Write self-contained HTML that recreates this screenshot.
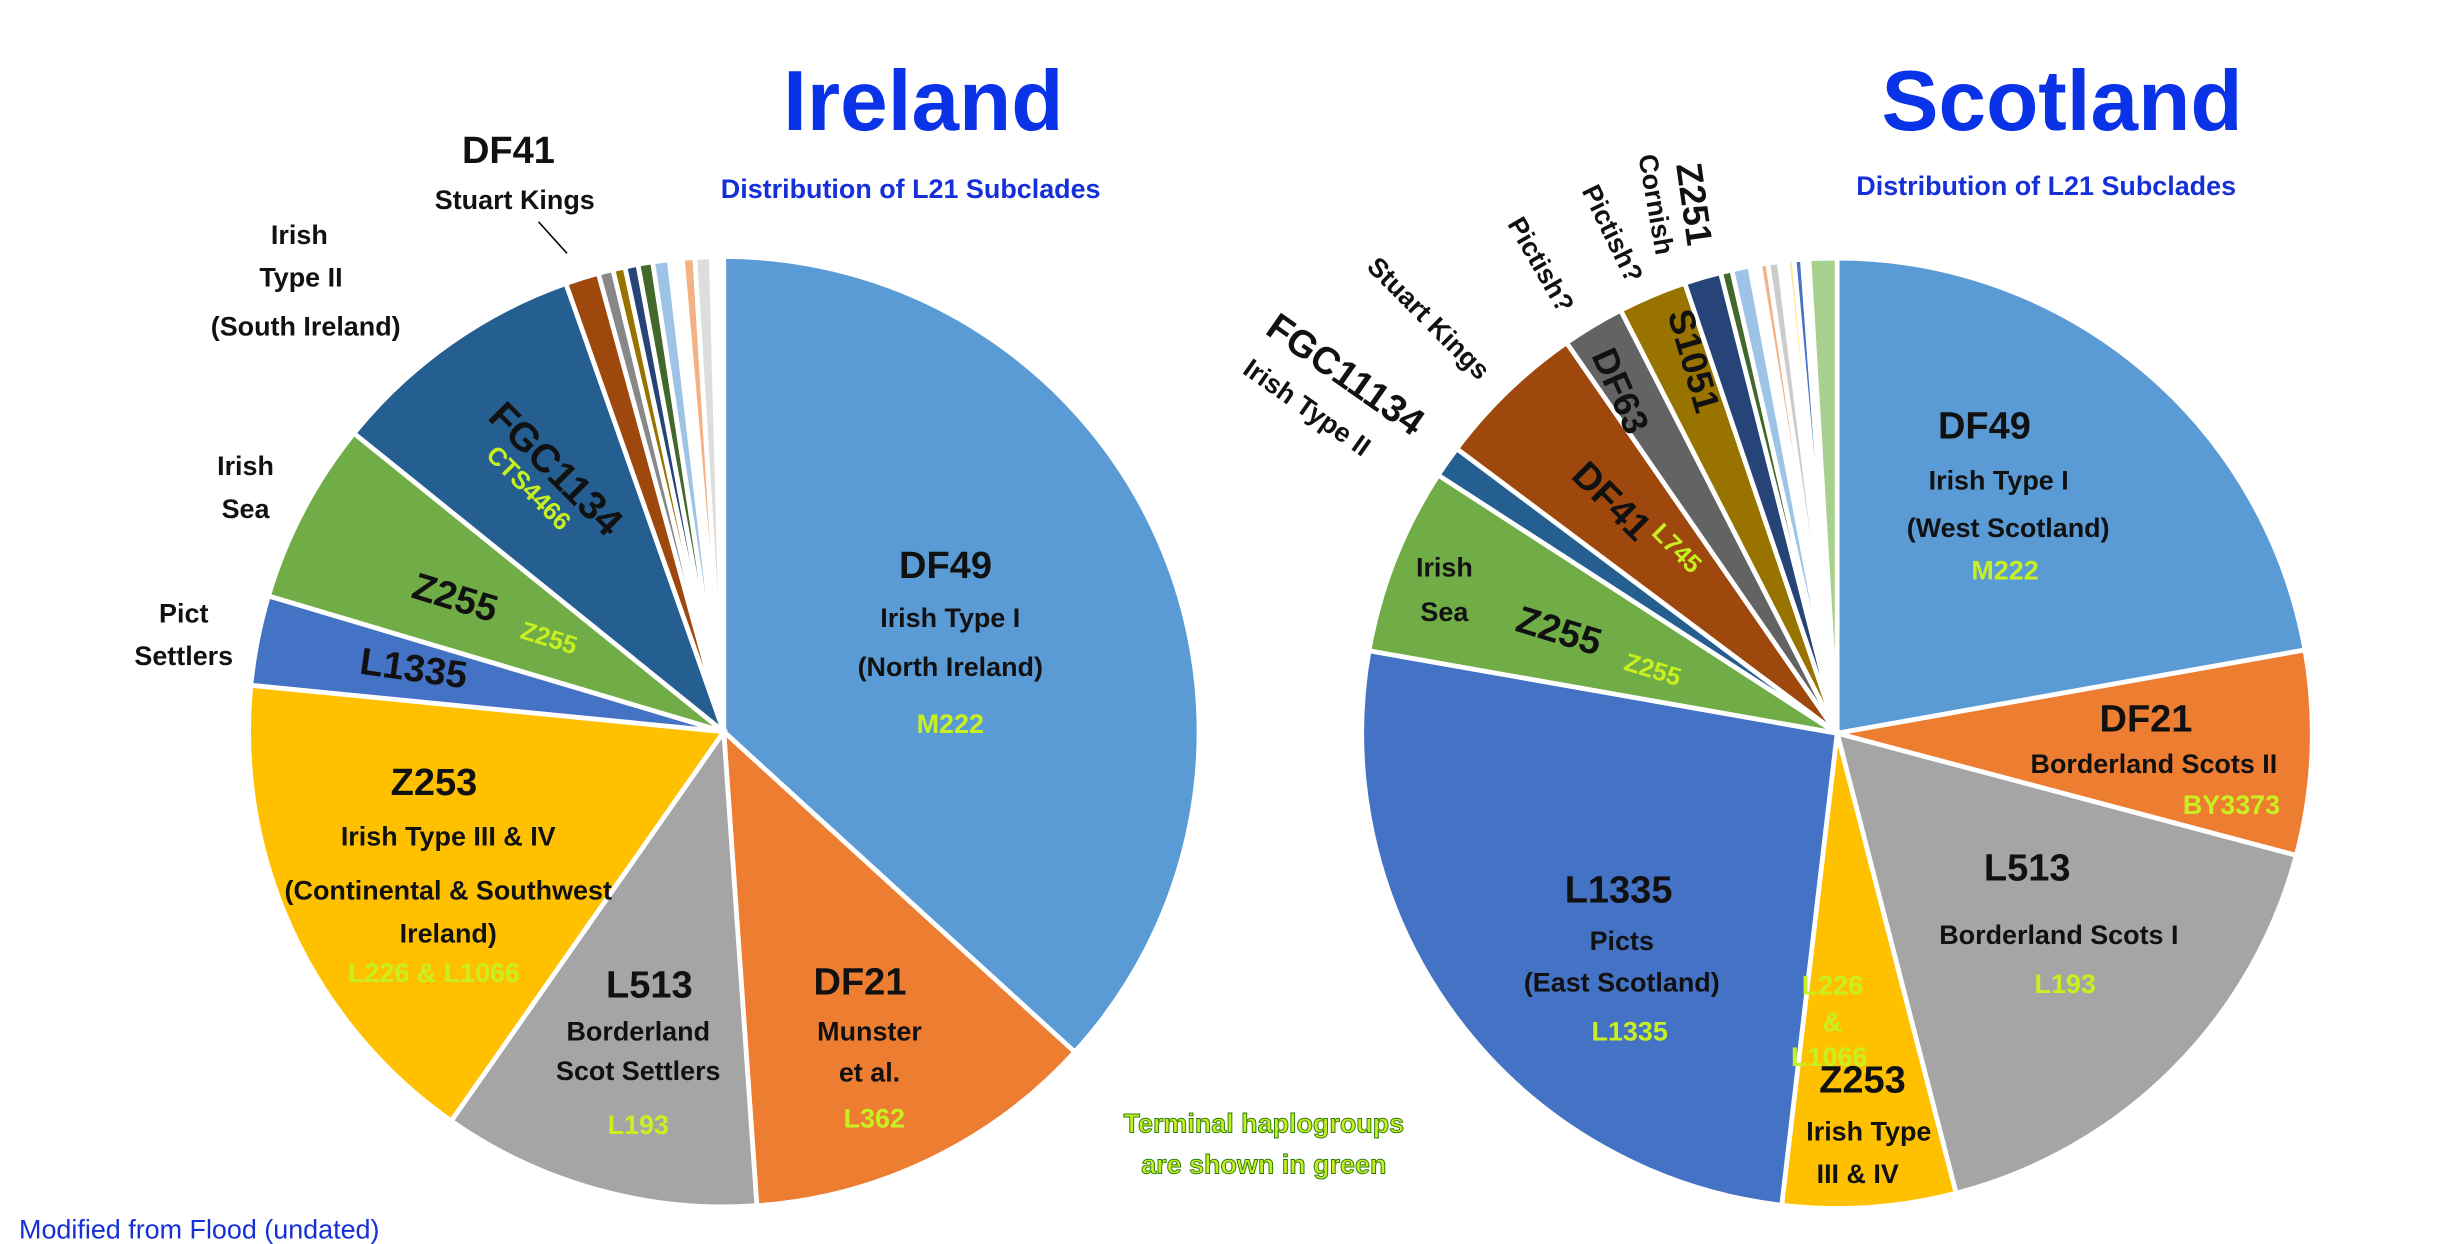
<!DOCTYPE html>
<html><head><meta charset="utf-8"><style>
html,body{margin:0;padding:0;background:#fff;}
svg{display:block;}
text{font-family:"Liberation Sans",sans-serif;font-weight:bold;}
.k{fill:#111;}
.g{fill:#c8f020;}
.n{font-weight:normal;}
</style></head><body>
<svg width="2458" height="1244" viewBox="0 0 1552 785.5" xmlns="http://www.w3.org/2000/svg">
<rect width="1552" height="785.5" fill="#fff"/>
<g stroke="#fff" stroke-width="3">
<path d="M457 462L457 162A300 300 0 0 1 678.6 664.3Z" fill="#5b9bd5"/>
<path d="M457 462L678.6 664.3A300 300 0 0 1 477.9 761.3Z" fill="#ed7d31"/>
<path d="M457 462L477.9 761.3A300 300 0 0 1 284.9 707.8Z" fill="#a5a5a5"/>
<path d="M457 462L284.9 707.8A300 300 0 0 1 158.4 432.7Z" fill="#ffc000"/>
<path d="M457 462L158.4 432.7A300 300 0 0 1 169.5 376.3Z" fill="#4472c4"/>
<path d="M457 462L169.5 376.3A300 300 0 0 1 223.5 273.6Z" fill="#70ad47"/>
<path d="M457 462L223.5 273.6A300 300 0 0 1 357.3 179Z" fill="#255e91"/>
<path d="M457 462L357.3 179A300 300 0 0 1 377.8 172.6Z" fill="#9e480e"/>
<path d="M457 462L377.8 172.6A300 300 0 0 1 387 170.3Z" fill="#888"/>
<path d="M457 462L387 170.3A300 300 0 0 1 394.6 168.6Z" fill="#997300"/>
<path d="M457 462L394.6 168.6A300 300 0 0 1 402.8 166.9Z" fill="#264478"/>
<path d="M457 462L402.8 166.9A300 300 0 0 1 412.1 165.4Z" fill="#43682b"/>
<path d="M457 462L412.1 165.4A300 300 0 0 1 422.5 164Z" fill="#9dc3e6"/>
<path d="M457 462L430.8 163.1A300 300 0 0 1 438.7 162.6Z" fill="#f4b183"/>
<path d="M457 462L438.7 162.6A300 300 0 0 1 449.1 162.1Z" fill="#ddd"/>
</g>
<g stroke="#fff" stroke-width="3">
<path d="M1160 463L1160 163A300 300 0 0 1 1455.4 410.4Z" fill="#5b9bd5"/>
<path d="M1160 463L1455.4 410.4A300 300 0 0 1 1449.9 540.1Z" fill="#ed7d31"/>
<path d="M1160 463L1449.9 540.1A300 300 0 0 1 1235.1 753.4Z" fill="#a5a5a5"/>
<path d="M1160 463L1235.1 753.4A300 300 0 0 1 1125 761Z" fill="#ffc000"/>
<path d="M1160 463L1125 761A300 300 0 0 1 864.4 410.9Z" fill="#4472c4"/>
<path d="M1160 463L864.4 410.9A300 300 0 0 1 908.1 300Z" fill="#70ad47"/>
<path d="M1160 463L908.1 300A300 300 0 0 1 919.8 283.3Z" fill="#255e91"/>
<path d="M1160 463L919.8 283.3A300 300 0 0 1 989.2 216.4Z" fill="#9e480e"/>
<path d="M1160 463L989.2 216.4A300 300 0 0 1 1023.3 195.9Z" fill="#636363"/>
<path d="M1160 463L1023.3 195.9A300 300 0 0 1 1063.8 178.8Z" fill="#997300"/>
<path d="M1160 463L1063.8 178.8A300 300 0 0 1 1086.4 172.2Z" fill="#264478"/>
<path d="M1160 463L1086.4 172.2A300 300 0 0 1 1093.5 170.5Z" fill="#43682b"/>
<path d="M1160 463L1093.5 170.5A300 300 0 0 1 1104.8 168.1Z" fill="#9dc3e6"/>
<path d="M1160 463L1111 167A300 300 0 0 1 1116.2 166.2Z" fill="#f4b183"/>
<path d="M1160 463L1116.2 166.2A300 300 0 0 1 1123.4 165.3Z" fill="#ccc"/>
<path d="M1160 463L1128.6 164.7A300 300 0 0 1 1132.8 164.2Z" fill="#ffe699"/>
<path d="M1160 463L1132.8 164.2A300 300 0 0 1 1138 163.8Z" fill="#4472c4"/>
<path d="M1160 463L1142.2 163.5A300 300 0 0 1 1160 163Z" fill="#a9d18e"/>
</g>
<text x="583" y="82" font-size="54" fill="#0a32e6" text-anchor="middle">Ireland</text>
<text x="575" y="125" font-size="17" fill="#1530d8" text-anchor="middle">Distribution of L21 Subclades</text>
<text x="1302" y="82" font-size="54" fill="#0a32e6" text-anchor="middle">Scotland</text>
<text x="1292" y="123" font-size="17" fill="#1530d8" text-anchor="middle">Distribution of L21 Subclades</text>
<text x="12" y="782" font-size="17" fill="#1530d8" class="n">Modified from Flood (undated)</text>
<text x="798" y="715" font-size="17" class="g" text-anchor="middle" stroke="#2a7a10" stroke-width="0.6">Terminal haplogroups</text>
<text x="798" y="741" font-size="17" class="g" text-anchor="middle" stroke="#2a7a10" stroke-width="0.6">are shown in green</text>
<text x="321" y="103" font-size="24" class="k" text-anchor="middle">DF41</text>
<text x="325" y="132" font-size="17" class="k" text-anchor="middle">Stuart Kings</text>
<line x1="340" y1="140" x2="358" y2="160" stroke="#000" stroke-width="1"/>
<text x="189" y="154" font-size="17" class="k" text-anchor="middle">Irish</text>
<text x="190" y="181" font-size="17" class="k" text-anchor="middle">Type II</text>
<text x="193" y="212" font-size="17" class="k" text-anchor="middle">(South Ireland)</text>
<text x="155" y="300" font-size="17" class="k" text-anchor="middle">Irish</text>
<text x="155" y="327" font-size="17" class="k" text-anchor="middle">Sea</text>
<text x="116" y="393" font-size="17" class="k" text-anchor="middle">Pict</text>
<text x="116" y="420" font-size="17" class="k" text-anchor="middle">Settlers</text>
<text transform="translate(345,302) rotate(45)" font-size="25" class="k" text-anchor="middle">FGC1134</text>
<text transform="translate(330,312) rotate(45)" font-size="16" class="g" text-anchor="middle">CTS4466</text>
<text transform="translate(285,385) rotate(17)" font-size="24" class="k" text-anchor="middle">Z255</text>
<text transform="translate(345,408) rotate(17)" font-size="16" class="g" text-anchor="middle">Z255</text>
<text transform="translate(260,430) rotate(8)" font-size="24" class="k" text-anchor="middle">L1335</text>
<text x="597" y="365" font-size="24" class="k" text-anchor="middle">DF49</text>
<text x="600" y="396" font-size="17" class="k" text-anchor="middle">Irish Type I</text>
<text x="600" y="427" font-size="17" class="k" text-anchor="middle">(North Ireland)</text>
<text x="600" y="463" font-size="17" class="g" text-anchor="middle">M222</text>
<text x="274" y="502" font-size="24" class="k" text-anchor="middle">Z253</text>
<text x="283" y="534" font-size="17" class="k" text-anchor="middle">Irish Type III &amp; IV</text>
<text x="283" y="568" font-size="17" class="k" text-anchor="middle">(Continental &amp; Southwest</text>
<text x="283" y="595" font-size="17" class="k" text-anchor="middle">Ireland)</text>
<text x="274" y="620" font-size="17" class="g" text-anchor="middle">L226 &amp; L1066</text>
<text x="410" y="630" font-size="24" class="k" text-anchor="middle">L513</text>
<text x="403" y="657" font-size="17" class="k" text-anchor="middle">Borderland</text>
<text x="403" y="682" font-size="17" class="k" text-anchor="middle">Scot Settlers</text>
<text x="403" y="716" font-size="17" class="g" text-anchor="middle">L193</text>
<text x="543" y="628" font-size="24" class="k" text-anchor="middle">DF21</text>
<text x="549" y="657" font-size="17" class="k" text-anchor="middle">Munster</text>
<text x="549" y="683" font-size="17" class="k" text-anchor="middle">et al.</text>
<text x="552" y="712" font-size="17" class="g" text-anchor="middle">L362</text>
<text x="1253" y="277" font-size="24" class="k" text-anchor="middle">DF49</text>
<text x="1262" y="309" font-size="17" class="k" text-anchor="middle">Irish Type I</text>
<text x="1268" y="339" font-size="17" class="k" text-anchor="middle">(West Scotland)</text>
<text x="1266" y="366" font-size="17" class="g" text-anchor="middle">M222</text>
<text x="1355" y="462" font-size="24" class="k" text-anchor="middle">DF21</text>
<text x="1360" y="488" font-size="17" class="k" text-anchor="middle">Borderland Scots II</text>
<text x="1409" y="514" font-size="17" class="g" text-anchor="middle">BY3373</text>
<text x="1280" y="556" font-size="24" class="k" text-anchor="middle">L513</text>
<text x="1300" y="596" font-size="17" class="k" text-anchor="middle">Borderland Scots I</text>
<text x="1304" y="627" font-size="17" class="g" text-anchor="middle">L193</text>
<text x="1022" y="570" font-size="24" class="k" text-anchor="middle">L1335</text>
<text x="1024" y="600" font-size="17" class="k" text-anchor="middle">Picts</text>
<text x="1024" y="626" font-size="17" class="k" text-anchor="middle">(East Scotland)</text>
<text x="1029" y="657" font-size="17" class="g" text-anchor="middle">L1335</text>
<text x="1157" y="628" font-size="17" class="g" text-anchor="middle">L226</text>
<text x="1157" y="651" font-size="17" class="g" text-anchor="middle">&amp;</text>
<text x="1155" y="673" font-size="17" class="g" text-anchor="middle">L1066</text>
<text x="1176" y="690" font-size="24" class="k" text-anchor="middle">Z253</text>
<text x="1180" y="720" font-size="17" class="k" text-anchor="middle">Irish Type</text>
<text x="1173" y="747" font-size="17" class="k" text-anchor="middle">III &amp; IV</text>
<text x="912" y="364" font-size="17" class="k" text-anchor="middle">Irish</text>
<text x="912" y="392" font-size="17" class="k" text-anchor="middle">Sea</text>
<text transform="translate(982,406) rotate(17)" font-size="24" class="k" text-anchor="middle">Z255</text>
<text transform="translate(1042,428) rotate(17)" font-size="16" class="g" text-anchor="middle">Z255</text>
<text transform="translate(1012,322) rotate(45)" font-size="24" class="k" text-anchor="middle">DF41</text>
<text transform="translate(1055,350) rotate(45)" font-size="16" class="g" text-anchor="middle">L745</text>
<text transform="translate(1016,250) rotate(66)" font-size="23" class="k" text-anchor="middle">DF63</text>
<text transform="translate(1062,230) rotate(74)" font-size="23" class="k" text-anchor="middle">S1051</text>
<text transform="translate(845,243) rotate(35)" font-size="24" class="k" text-anchor="middle">FGC11134</text>
<text transform="translate(822,262) rotate(35)" font-size="17" class="k" text-anchor="middle">Irish Type II</text>
<text transform="translate(898,205) rotate(45)" font-size="17" class="k" text-anchor="middle">Stuart Kings</text>
<text transform="translate(968,170) rotate(60)" font-size="17" class="k" text-anchor="middle">Pictish?</text>
<text transform="translate(1013,150) rotate(64)" font-size="17" class="k" text-anchor="middle">Pictish?</text>
<text transform="translate(1040,130) rotate(80)" font-size="17" class="k" text-anchor="middle">Cornish</text>
<text transform="translate(1062,130) rotate(82)" font-size="23" class="k" text-anchor="middle">Z251</text>
</svg>
</body></html>
